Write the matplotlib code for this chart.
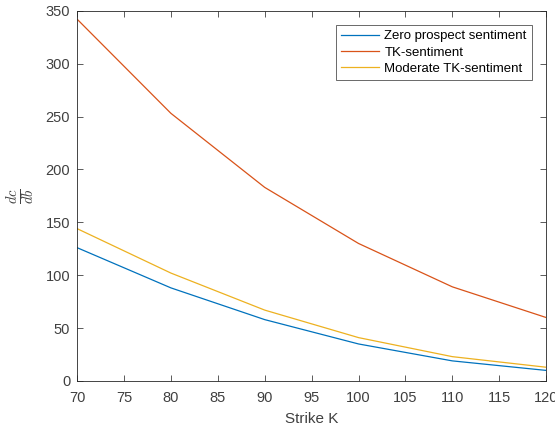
import matplotlib
matplotlib.use("Agg")
import matplotlib.pyplot as plt

strike = [70, 80, 90, 100, 110, 120]
zero_sentiment = [126, 88, 58, 35, 19, 10]
tk_sentiment = [342, 253, 183, 130, 89, 60]
moderate_tk = [144, 102, 67, 41, 23, 13]

labels = ["Zero prospect sentiment", "TK-sentiment", "Moderate TK-sentiment"]
colors = ["#0072BD", "#D95319", "#EDB120"]

plt.rcParams["font.family"] = ["Liberation Sans", "DejaVu Sans"]
plt.rcParams["mathtext.fontset"] = "cm"

fig = plt.figure(figsize=(5.55, 4.30), dpi=100)
ax = fig.add_axes([0.139, 0.114, 0.845, 0.861])

for ys, lab, c in zip([zero_sentiment, tk_sentiment, moderate_tk], labels, colors):
    ax.plot(strike, ys, color=c, lw=0.9, label=lab)

ax.set_xlim(70, 120)
ax.set_ylim(0, 350)
ax.set_xticks(range(70, 121, 5))
ax.set_yticks(range(0, 351, 50))
ax.tick_params(direction="in", top=True, right=True, labelsize=10.5, colors="#404040", length=4, width=0.6)
ax.tick_params(axis="x", pad=7)
ax.tick_params(axis="y", pad=5)
for s in ax.spines.values():
    s.set_color("#262626")
    s.set_linewidth(0.6)

ax.set_xlabel("Strike K", fontsize=11, color="#404040", labelpad=5)
ax.set_ylabel(r"$\frac{dc}{db}$", fontsize=15, color="#404040", labelpad=6)

leg = ax.legend(loc="upper right", bbox_to_anchor=(0.970, 0.962), fontsize=9.5, frameon=True, fancybox=False,
                borderpad=0.4, labelspacing=0.3, handlelength=2.9, handletextpad=0.4, borderaxespad=0)
leg.get_frame().set_edgecolor("#262626")
leg.get_frame().set_linewidth(0.6)

fig.savefig("out.png", dpi=100)
